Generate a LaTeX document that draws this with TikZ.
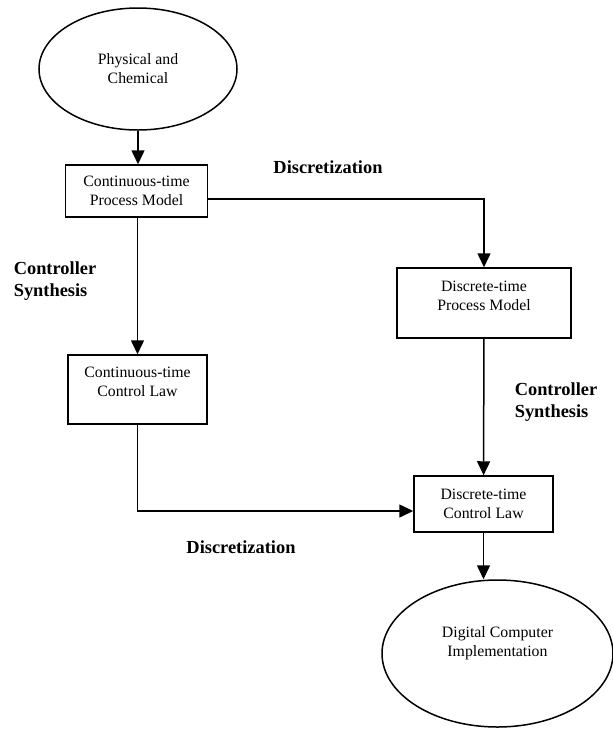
\documentclass[tikz,border=0pt]{standalone}
\usepackage{fontspec}
\setmainfont{Liberation Serif}
\usetikzlibrary{shapes.geometric,arrows.meta}

\begin{document}
\begin{tikzpicture}[x=1pt,y=-1pt,line width=1.5pt,>={Triangle[length=14pt,width=13pt]},
  box/.style={rectangle,draw,align=center,inner sep=0pt,font=\fontsize{15.8}{19}\selectfont},
  blob/.style={ellipse,draw,align=center,inner sep=0pt,font=\fontsize{15.8}{19}\selectfont},
  lbl/.style={align=left,inner sep=0pt,font=\fontsize{18.4}{21.5}\selectfont\bfseries}]
\useasboundingbox (0,0) rectangle (613,729);
\node [blob,minimum width=198pt,minimum height=122pt] (phys) at (138,69) {Physical and\\Chemical};
\node [box,minimum width=142pt,minimum height=52pt] (cproc) at (136.5,191) {Continuous-time\\Process Model};
\node [box,minimum width=139pt,minimum height=69pt,text depth=15pt] (claw) at (137.5,389.5) {Continuous-time\\Control Law};
\node [box,minimum width=174pt,minimum height=70pt,text depth=14pt] (dproc) at (484,303) {Discrete-time\\Process Model};
\node [box,minimum width=139pt,minimum height=56pt] (dlaw) at (483.5,504) {Discrete-time\\Control Law};
\node [blob,minimum width=231pt,minimum height=147pt,text depth=23pt] (dig) at (497.5,653.5) {Digital Computer\\Implementation};

\node [lbl] (disc1) at (328,167) {Discretization};
\node [lbl] (synth1) at (55,281) {Controller\\Synthesis};
\node [lbl] (synth2) at (556,402) {Controller\\Synthesis};
\node [lbl] (disc2) at (241,547) {Discretization};

\draw [->] (phys.south) -- (phys.south |- cproc.north);
\draw [->] ([yshift=-8pt]cproc.east) -| (dproc.north);
\draw [->] (claw.north |- cproc.south) -- (claw.north);
\draw [->] (claw.south) |- ([yshift=-7pt]dlaw.west);
\draw [->] (dproc) -- (dlaw);
\draw [->] (dlaw.south) -- (dlaw.south |- dig.north);
\end{tikzpicture}
\end{document}
